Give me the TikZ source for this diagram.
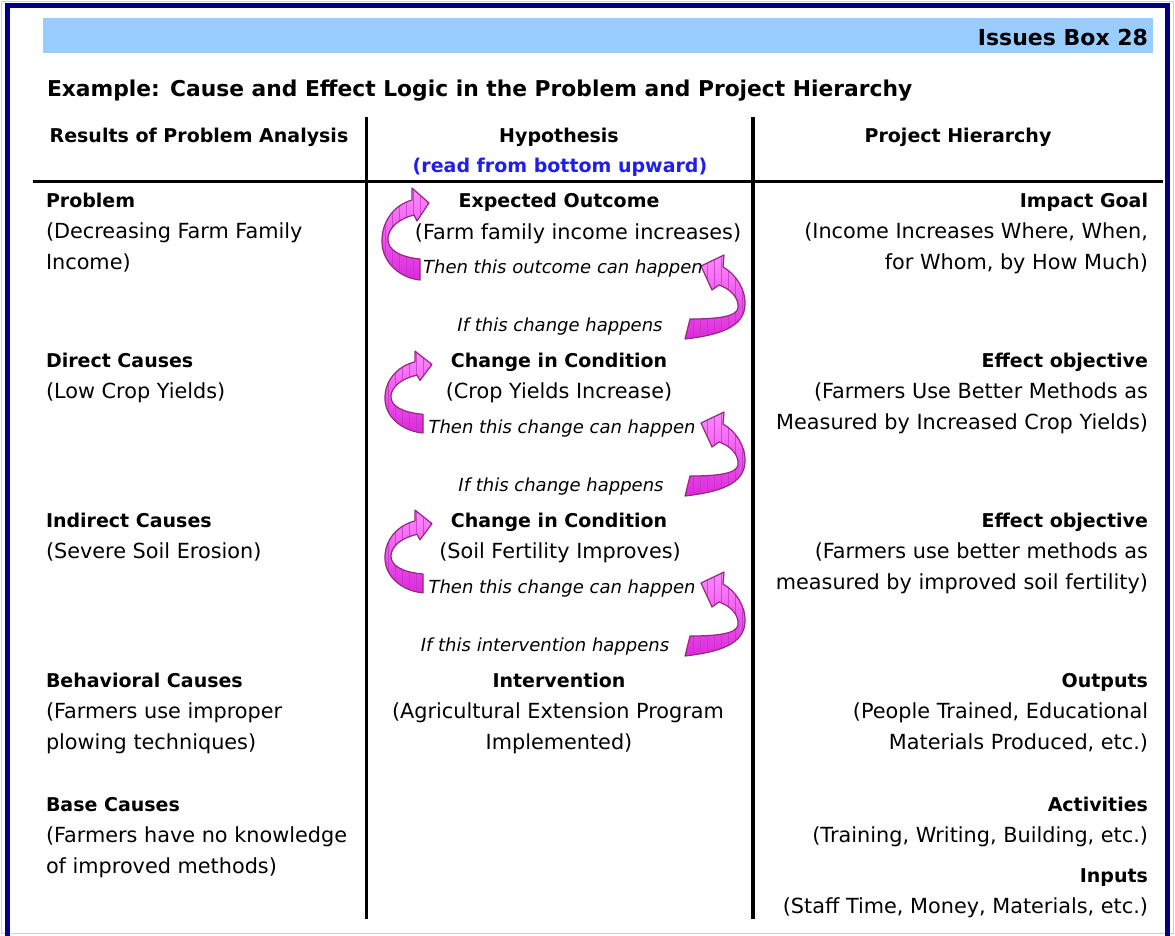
\documentclass[tikz,border=0pt]{standalone}
\usepackage{fontspec}
\setmainfont{DejaVu Sans}
\definecolor{navy}{RGB}{0,0,128}
\definecolor{lav}{RGB}{205,205,240}
\definecolor{banner}{RGB}{153,204,255}
\definecolor{pinkA}{RGB}{255,140,255}
\definecolor{pinkB}{RGB}{220,40,220}
\definecolor{pinkO}{RGB}{150,40,130}
\definecolor{pinkG}{RGB}{190,50,190}
\definecolor{hypblue}{RGB}{30,30,240}
\newcommand\arrowLpath[1]{\path[#1] (420,259) .. controls (400,257) and (387,250) .. (388,238) .. controls (389,228) and (398,219) .. (414,215) -- (417,221) -- (429,203) -- (412,188) -- (412,200) .. controls (394,205) and (381,222) .. (382,243) .. controls (383,263) and (400,278) .. (420,280) -- cycle;}
\newcommand\arrowRpath[1]{\path[#1] (690,319) .. controls (715,319) and (737,317) .. (738,308) .. controls (739,297) and (730,289) .. (719,285) -- (712,290) -- (701,266) -- (724,255) -- (723,267) .. controls (736,274) and (746,290) .. (745,305) .. controls (744,327) and (720,335) .. (685,339) -- cycle;}
\newcommand\pinkL[1]{\begin{scope}[#1]
  \arrowLpath{top color=pinkA, bottom color=pinkB}
  \begin{scope}\arrowLpath{clip}\draw[gridl] (370,180) grid (450,290);\end{scope}
  \arrowLpath{draw=pinkO, line width=1.2pt, line join=round}
\end{scope}}
\newcommand\pinkR[1]{\begin{scope}[#1]
  \arrowRpath{top color=pinkA, bottom color=pinkB}
  \begin{scope}\arrowRpath{clip}\draw[gridl] (670,240) grid (760,345);\end{scope}
  \arrowRpath{draw=pinkO, line width=1.2pt, line join=round}
\end{scope}}
\begin{document}
\begin{tikzpicture}[x=1pt,y=-1pt,
  every node/.style={inner sep=0pt, outer sep=0pt},
  reg/.style={font=\fontsize{20.8}{24}\selectfont},
  bld/.style={font=\bfseries\fontsize{19}{24}\selectfont},
  itl/.style={font=\itshape\fontsize{18}{22}\selectfont},
  L/.style={anchor=base west}, C/.style={anchor=base}, R/.style={anchor=base east},
  rulel/.style={line width=3.5pt, black},
  gridl/.style={pinkG, line width=0.5pt, opacity=0.7, step=7}]
\clip (0,0) rectangle (1175,935);
\fill[white] (0,0) rectangle (1175,935);
\draw[lav, line width=1.5pt] (1.5,1.5) rectangle (1173.5,933.5);
\draw[navy, line width=5pt] (7.5,5.5) rectangle (1167.5,1000);
\fill[banner] (43,18) rectangle (1153,52.5);
\node[R, font=\bfseries\fontsize{22}{26}\selectfont] (box) at (1148,45) {Issues Box 28};
\node[L, font=\bfseries\fontsize{21.8}{26}\selectfont] (title) at (47,96) {Example: Cause and Effect Logic in the Problem and Project Hierarchy};
% rules
\coordinate (h1) at (33,181.5); \coordinate (h2) at (1163,181.5);
\coordinate (v1t) at (366.5,117); \coordinate (v1b) at (366.5,919);
\coordinate (v2t) at (753,117); \coordinate (v2b) at (753,919);
\draw[rulel] (h1) -- (h2);
\draw[rulel] (v1t) -- (v1b);
\draw[rulel] (v2t) -- (v2b);
% headers
\node[C, bld] (hL) at (199,142) {Results of Problem Analysis};
\node[C, bld] (hM) at (559,142) {Hypothesis};
\node[C, bld, text=hypblue] (hM2) at (560,172) {(read from bottom upward)};
\node[C, bld] (hR) at (958,142) {Project Hierarchy};
% left column
\node[L, bld] (l1) at (46,207) {Problem};
\node[L, reg] (l2) at (46,238) {(Decreasing Farm Family};
\node[L, reg] (l3) at (46,269) {Income)};
\node[L, bld] (l4) at (46,367) {Direct Causes};
\node[L, reg] (l5) at (46,398) {(Low Crop Yields)};
\node[L, bld] (l6) at (46,527) {Indirect Causes};
\node[L, reg] (l7) at (46,558) {(Severe Soil Erosion)};
\node[L, bld] (l8) at (46,687) {Behavioral Causes};
\node[L, reg] (l9) at (46,718) {(Farmers use improper};
\node[L, reg] (l10) at (46,749) {plowing techniques)};
\node[L, bld] (l11) at (46,811) {Base Causes};
\node[L, reg] (l12) at (46,842) {(Farmers have no knowledge};
\node[L, reg] (l13) at (46,873) {of improved methods)};
% arrows
\pinkL{}
\pinkL{shift={(3,352)}, yscale=0.89, shift={(0,-189)}}
\pinkL{shift={(3,511)}, yscale=0.9, shift={(0,-189)}}
\pinkR{}
\pinkR{shift={(0,157)}}
\pinkR{shift={(0,317)}}
% middle column
\node[C, bld] (m1) at (559,207) {Expected Outcome};
\node[C, reg] (m2) at (578,239) {(Farm family income increases)};
\node[C, itl] (m3) at (563,273) {Then this outcome can happen};
\node[C, itl] (m4) at (560,331) {If this change happens};
\node[C, bld] (m5) at (559,367) {Change in Condition};
\node[C, reg] (m6) at (559,398) {(Crop Yields Increase)};
\node[C, itl] (m7) at (562,433) {Then this change can happen};
\node[C, itl] (m8) at (561,491) {If this change happens};
\node[C, bld] (m9) at (559,527) {Change in Condition};
\node[C, reg] (m10) at (560,558) {(Soil Fertility Improves)};
\node[C, itl] (m11) at (562,593) {Then this change can happen};
\node[C, itl] (m12) at (545,651) {If this intervention happens};
\node[C, bld] (m13) at (559,687) {Intervention};
\node[C, reg] (m14) at (558,718) {(Agricultural Extension Program};
\node[C, reg] (m15) at (559,749) {Implemented)};
% right column
\node[R, bld] (r1) at (1148,207) {Impact Goal};
\node[R, reg] (r2) at (1148,238) {(Income Increases Where, When,};
\node[R, reg] (r3) at (1148,269) {for Whom, by How Much)};
\node[R, bld] (r4) at (1148,367) {Effect objective};
\node[R, reg] (r5) at (1148,398) {(Farmers Use Better Methods as};
\node[R, reg] (r6) at (1148,429) {Measured by Increased Crop Yields)};
\node[R, bld] (r7) at (1148,527) {Effect objective};
\node[R, reg] (r8) at (1148,558) {(Farmers use better methods as};
\node[R, reg] (r9) at (1148,589) {measured by improved soil fertility)};
\node[R, bld] (r10) at (1148,687) {Outputs};
\node[R, reg] (r11) at (1148,718) {(People Trained, Educational};
\node[R, reg] (r12) at (1148,749) {Materials Produced, etc.)};
\node[R, bld] (r13) at (1148,811) {Activities};
\node[R, reg] (r14) at (1148,842) {(Training, Writing, Building, etc.)};
\node[R, bld] (r15) at (1148,882) {Inputs};
\node[R, reg] (r16) at (1148,913) {(Staff Time, Money, Materials, etc.)};
\end{tikzpicture}
\end{document}
